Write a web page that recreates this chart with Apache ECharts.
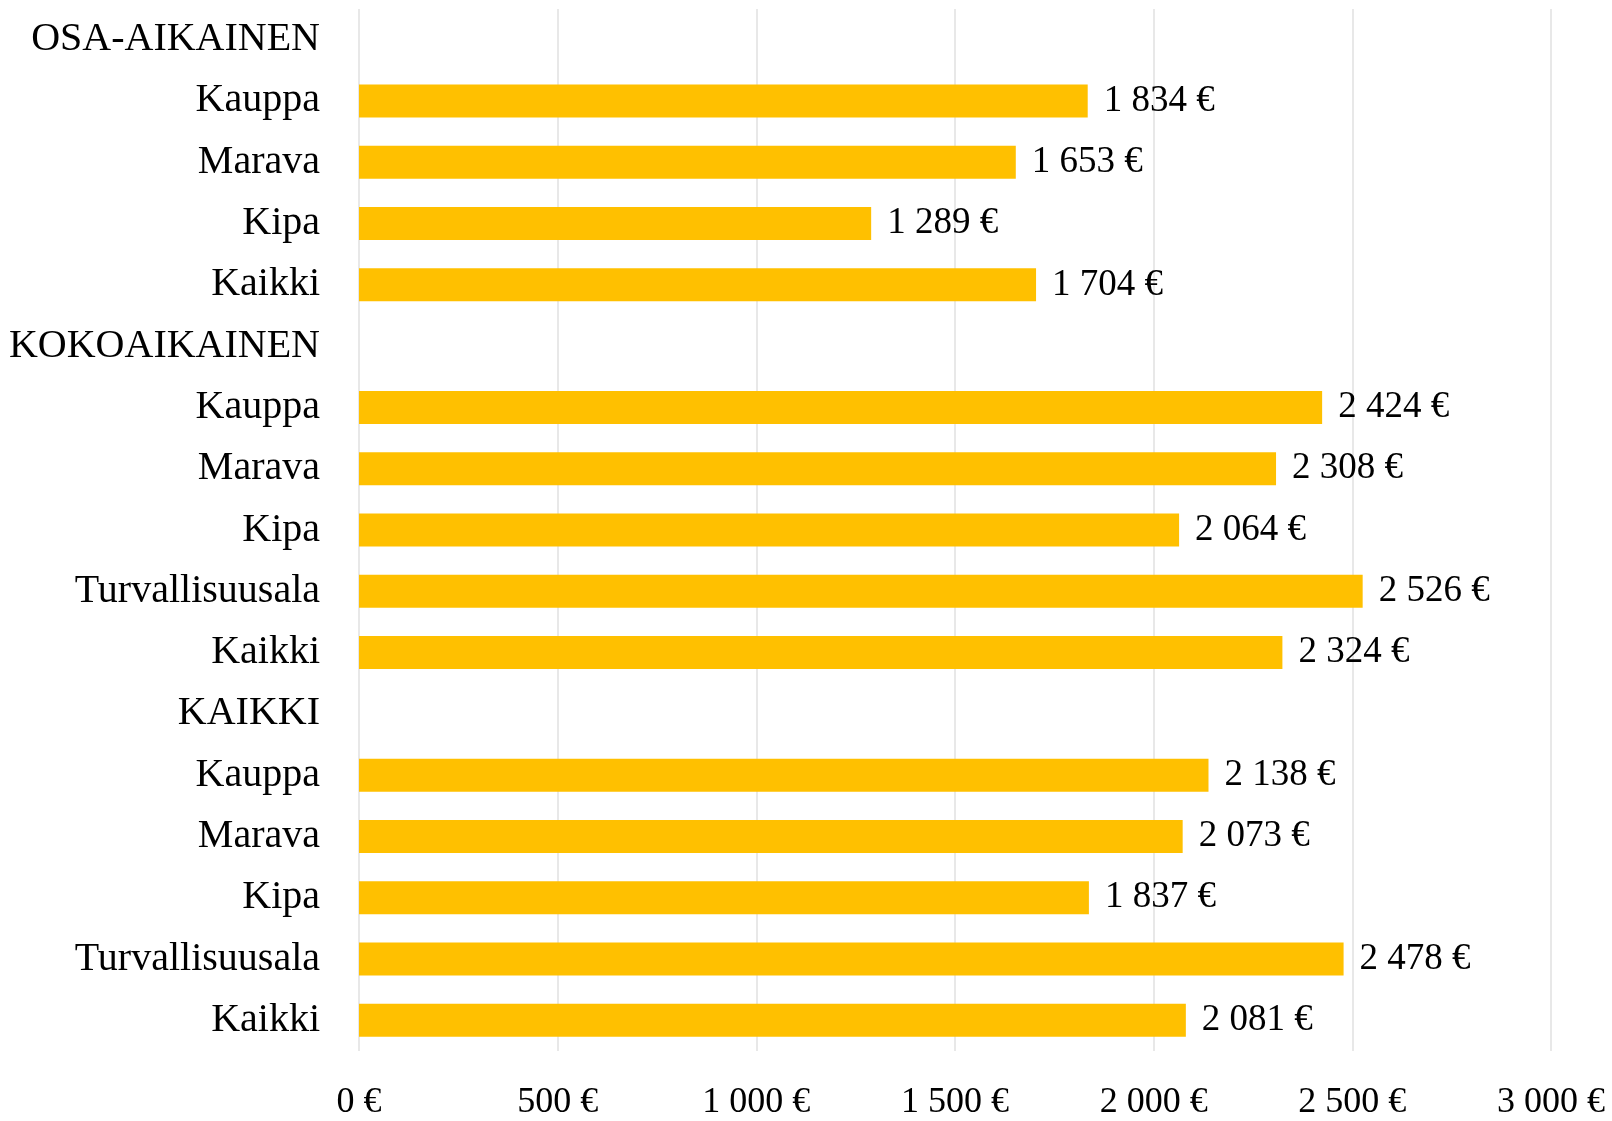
<!DOCTYPE html>
<html>
<head>
<meta charset="utf-8">
<script src="https://cdn.jsdelivr.net/npm/echarts@6/dist/echarts.min.js"></script>
<style>
  html, body { margin: 0; padding: 0; background: #fff; }
  #chart { width: 1612px; height: 1121px; }
</style>
</head>
<body>
<div id="chart"></div>
<script>
const FONT = '"Liberation Serif", "Times New Roman", serif';
const BAR_COLOR = '#ffc000';

// Rows top to bottom; group headers have no value
const categories = [
    'OSA-AIKAINEN', 'Kauppa', 'Marava', 'Kipa', 'Kaikki',
    'KOKOAIKAINEN', 'Kauppa', 'Marava', 'Kipa', 'Turvallisuusala', 'Kaikki',
    'KAIKKI', 'Kauppa', 'Marava', 'Kipa', 'Turvallisuusala', 'Kaikki'
];
const values = [
    null, 1834, 1653, 1289, 1704,
    null, 2424, 2308, 2064, 2526, 2324,
    null, 2138, 2073, 1837, 2478, 2081
];
const axisMin = 0;
const axisMax = 3000;
const axisStep = 500;

function euro(v) {
    return String(v).replace(/\B(?=(\d{3})+(?!\d))/g, ' ') + ' €';
}

const chartDom = document.getElementById('chart');
const myChart = echarts.init(chartDom);

const option = {
    backgroundColor: '#ffffff',
    animation: false,
    grid: {
        left: 359,
        right: 61,
        top: 9,
        bottom: 68
    },
    xAxis: {
        type: 'value',
        min: axisMin,
        max: axisMax,
        interval: axisStep,
        axisLine: { show: false },
        axisTick: { show: false },
        splitLine: {
            show: true,
            lineStyle: { color: '#e0e0e0', width: 1.5 }
        },
        axisLabel: {
            fontFamily: FONT,
            fontSize: 36,
            color: '#000',
            margin: 34,
            verticalAlign: 'top',
            formatter: function(v) { return euro(v); }
        }
    },
    yAxis: {
        type: 'category',
        inverse: true,
        data: categories,
        axisLine: { show: false },
        axisTick: { show: false },
        axisLabel: {
            fontFamily: FONT,
            fontSize: 40,
            color: '#000',
            margin: 39
        }
    },
    series: [
        {
            type: 'bar',
            data: values,
            barWidth: 33,
            itemStyle: { color: BAR_COLOR },
            label: {
                show: true,
                position: 'right',
                distance: 16,
                fontFamily: FONT,
                fontSize: 37,
                color: '#000',
                formatter: function(params) {
                    return params.value == null ? '' : euro(params.value);
                }
            }
        }
    ]
};

myChart.setOption(option);

window.addEventListener('resize', function() {
    myChart.resize();
});
</script>
</body>
</html>
